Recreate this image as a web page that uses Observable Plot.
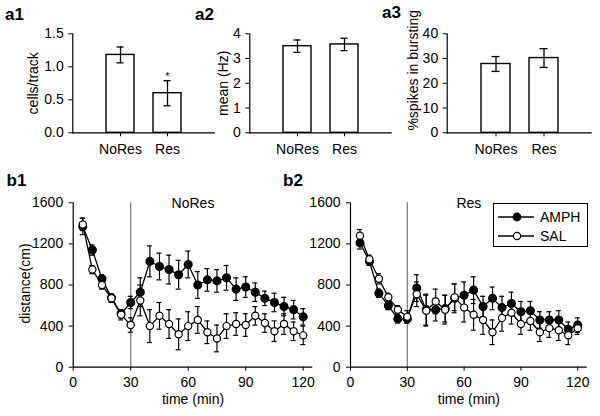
<!DOCTYPE html>
<html><head><meta charset="utf-8">
<script src="https://cdn.jsdelivr.net/npm/d3@7"></script>
<script src="https://cdn.jsdelivr.net/npm/@observablehq/plot@0.6"></script>
<style>
body{margin:0;background:#fff;}
#root{position:relative;width:600px;height:416px;font-family:"Liberation Sans",Arial,sans-serif;color:#000;overflow:hidden;}
.panel{position:absolute;}
.panel svg{display:block;overflow:visible;}
.lab{position:absolute;font-weight:bold;font-size:17px;line-height:17px;}
.legend{position:absolute;border:1px solid #000;box-sizing:border-box;background:#fff;font-size:14px;padding:3px 0 0 4px;}
.legend .row{display:flex;align-items:center;height:19px;}
.legend svg{margin-right:6px;}
</style></head><body><div id="root"></div>
<script>
// ---- data ----
const groups = ["NoRes", "Res"];
const cellsMean = [1.18, 0.60];
const cellsErr = [0.12, 0.19];
const cellsSig = ["", "*"];
const rateMean = [3.50, 3.57];
const rateErr = [0.25, 0.25];
const burstMean = [27.8, 30.2];
const burstErr = [3.0, 3.8];

const times = [5,10,15,20,25,30,35,40,45,50,55,60,65,70,75,80,85,90,95,100,105,110,115,120];
const b1Amph    = [1370,1140,860,675,520,630,730,1030,980,950,900,1000,800,850,840,870,760,780,730,670,630,590,560,490];
const b1AmphErr = [80,50,40,40,40,60,140,150,130,140,140,130,130,110,110,120,110,100,90,70,90,90,90,80];
const b1Sal     = [1390,950,800,670,510,410,650,400,500,420,320,400,460,340,280,400,420,410,500,430,350,420,350,310];
const b1SalErr  = [60,40,40,40,50,70,150,160,130,140,150,140,130,110,130,120,110,110,90,90,100,100,90,90];
const b2Amph    = [1210,1030,720,600,470,470,770,560,560,570,670,700,750,590,670,580,620,540,550,460,460,460,370,410];
const b2AmphErr = [60,40,40,40,40,40,130,150,110,130,140,130,130,100,110,110,110,100,90,80,80,90,70,70];
const b2Sal     = [1280,1050,860,680,560,490,710,550,640,560,680,580,510,460,340,480,530,420,450,340,380,360,310,380];
const b2SalErr  = [60,40,50,40,40,60,120,150,120,140,130,140,150,140,120,130,110,100,90,90,90,100,90,60];
const seriesNames = ["AMPH", "SAL"];
const timeTicks = [0, 30, 60, 90, 120];
const distTicks = [0, 400, 800, 1200, 1600];

const root = document.getElementById("root");
const FONT = "Liberation Sans, Arial, sans-serif";

function place(node, left, top) {
  const d = document.createElement("div");
  d.className = "panel";
  d.style.left = left + "px";
  d.style.top = top + "px";
  d.appendChild(node);
  root.appendChild(d);
}
function label(txt, left, top) {
  const d = document.createElement("div");
  d.className = "lab";
  d.style.left = left + "px";
  d.style.top = top + "px";
  d.textContent = txt;
  root.appendChild(d);
}

function barPanel(o) {
  const data = groups.map((g, i) => ({g, m: o.mean[i], e: o.err[i], s: o.sig ? o.sig[i] : ""}));
  const p = Plot.plot({
    width: o.width, height: 165,
    marginLeft: o.ml, marginRight: o.mr, marginTop: 33.3, marginBottom: 32.7,
    style: {fontFamily: FONT, fontSize: "14px", background: "transparent", color: "#000"},
    x: {type: "band", domain: groups, paddingInner: 0.4, paddingOuter: 0.7, label: null},
    y: {domain: o.domain, label: null},
    marks: [
      Plot.barY(data, {x: "g", y: "m", fill: "white", stroke: "black", strokeWidth: 1.4}),
      Plot.ruleX(data, {x: "g", y1: d => d.m - d.e, y2: d => d.m + d.e, stroke: "black", strokeWidth: 1.3}),
      Plot.tickY(data, {x: "g", y: d => d.m + d.e, stroke: "black", strokeWidth: 1.3, insetLeft: 10.5, insetRight: 10.5}),
      Plot.tickY(data, {x: "g", y: d => d.m - d.e, stroke: "black", strokeWidth: 1.3, insetLeft: 10.5, insetRight: 10.5}),
      Plot.text(data.filter(d => d.s), {x: "g", y: d => d.m + d.e, text: "s", dy: -4, fontSize: 11}),
      Plot.ruleY([o.domain[0]], {stroke: "black", strokeWidth: 1.2}),
      Plot.frame({anchor: "left", stroke: "black", strokeWidth: 1.2}),
      Plot.axisY({ticks: o.ticks, tickFormat: o.fmt, tickSize: 4, tickPadding: 5, label: null}),
      Plot.axisX({tickSize: 4, tickPadding: 7, label: null}),
      Plot.text([o.ylabel], {frameAnchor: "left", text: d => d, rotate: -90, textAnchor: "middle", lineAnchor: "middle",
        dx: o.ldx, dy: o.ldy || 0, fontSize: 14})
    ]
  });
  place(p, o.left, 0);
}

barPanel({left: 0, width: 220, ml: 72.3, mr: 5, domain: [0, 1.5], ticks: [0, 0.5, 1, 1.5], fmt: d3.format(".1f"),
  mean: cellsMean, err: cellsErr, sig: cellsSig, ylabel: "cells/track", ldx: -39});
barPanel({left: 200, width: 197, ml: 49.3, mr: 5.3, domain: [0, 4], ticks: [0, 1, 2, 3, 4], fmt: d3.format("d"),
  mean: rateMean, err: rateErr, ylabel: "mean (Hz)", ldx: -26});
barPanel({left: 390, width: 207, ml: 56.7, mr: 5.3, domain: [0, 40], ticks: [0, 10, 20, 30, 40], fmt: d3.format("d"),
  mean: burstMean, err: burstErr, ylabel: "%spikes in bursting", ldx: -33.5, ldy: -13});

function timePanel(o) {
  const amph = times.map((t, i) => ({t, v: o.amph[i], e: o.amphErr[i]}));
  const sal = times.map((t, i) => ({t, v: o.sal[i], e: o.salErr[i]}));
  const errMarks = (data) => [
    Plot.ruleX(data, {x: "t", y1: d => d.v - d.e, y2: d => d.v + d.e, stroke: "black", strokeWidth: 1.2}),
    Plot.ruleY(data, {y: d => d.v + d.e, x1: d => d.t - 1.3, x2: d => d.t + 1.3, stroke: "black", strokeWidth: 1.2}),
    Plot.ruleY(data, {y: d => d.v - d.e, x1: d => d.t - 1.3, x2: d => d.t + 1.3, stroke: "black", strokeWidth: 1.2})
  ];
  const p = Plot.plot({
    width: o.width, height: 246,
    marginLeft: o.ml, marginRight: o.mr, marginTop: 32.3, marginBottom: 49.3,
    style: {fontFamily: FONT, fontSize: "14px", background: "transparent", color: "#000"},
    x: {domain: [0, 125], label: null},
    y: {domain: [0, 1600], label: null},
    marks: [
      Plot.ruleX([30], {stroke: "#777", strokeWidth: 1.2}),
      ...errMarks(amph),
      ...errMarks(sal),
      Plot.line(amph, {x: "t", y: "v", stroke: "black", strokeWidth: 1.3}),
      Plot.line(sal, {x: "t", y: "v", stroke: "black", strokeWidth: 1.3}),
      Plot.dot(amph, {x: "t", y: "v", r: 3.8, fill: "black", stroke: "black"}),
      Plot.dot(sal, {x: "t", y: "v", r: 3.6, fill: "white", stroke: "black", strokeWidth: 1.2}),
      Plot.ruleY([0], {stroke: "black", strokeWidth: 1.2}),
      Plot.ruleX([0], {stroke: "black", strokeWidth: 1.2}),
      Plot.axisY({ticks: distTicks, tickFormat: d3.format("d"), tickSize: 4, tickPadding: 6, label: null}),
      Plot.axisX({ticks: timeTicks, tickFormat: d3.format("d"), tickSize: 4, tickPadding: 6, label: null}),
      Plot.text([o.title], {frameAnchor: "top", text: d => d, lineAnchor: "middle", dy: 1, fontSize: 14}),
      Plot.text(["time (min)"], {frameAnchor: "bottom", text: d => d, lineAnchor: "middle", dy: 32.5, fontSize: 14}),
      ...(o.ylabel ? [Plot.text([o.ylabel], {frameAnchor: "left", text: d => d, rotate: -90, textAnchor: "middle",
        lineAnchor: "middle", dx: -47.7, dy: -1.5, fontSize: 14})] : [])
    ]
  });
  place(p, o.left, 170);
}

timePanel({left: 0, width: 320, ml: 72.7, mr: 7.7, amph: b1Amph, amphErr: b1AmphErr, sal: b1Sal, salErr: b1SalErr,
  title: "NoRes", ylabel: "distance(cm)"});
timePanel({left: 280, width: 320, ml: 70, mr: 13.3, amph: b2Amph, amphErr: b2AmphErr, sal: b2Sal, salErr: b2SalErr,
  title: "Res", ylabel: null});

label("a1", 5, 5.6);
label("a2", 195, 5.6);
label("a3", 382, 4);
label("b1", 6.5, 172.3);
label("b2", 283, 172.3);

// legend
const lg = document.createElement("div");
lg.className = "legend";
lg.style.left = "493px"; lg.style.top = "203px"; lg.style.width = "95px"; lg.style.height = "44px";
seriesNames.forEach((name, i) => {
  const row = document.createElement("div");
  row.className = "row";
  const filled = i === 0;
  row.innerHTML = `<svg width="36" height="12"><line x1="0" x2="36" y1="6" y2="6" stroke="black" stroke-width="1.3"/>` +
    `<circle cx="19" cy="6" r="${filled ? 3.8 : 3.6}" fill="${filled ? "black" : "white"}" stroke="black" stroke-width="1.2"/></svg>`;
  const s = document.createElement("span");
  s.textContent = name;
  row.appendChild(s);
  lg.appendChild(row);
});
root.appendChild(lg);
</script>
</body></html>
